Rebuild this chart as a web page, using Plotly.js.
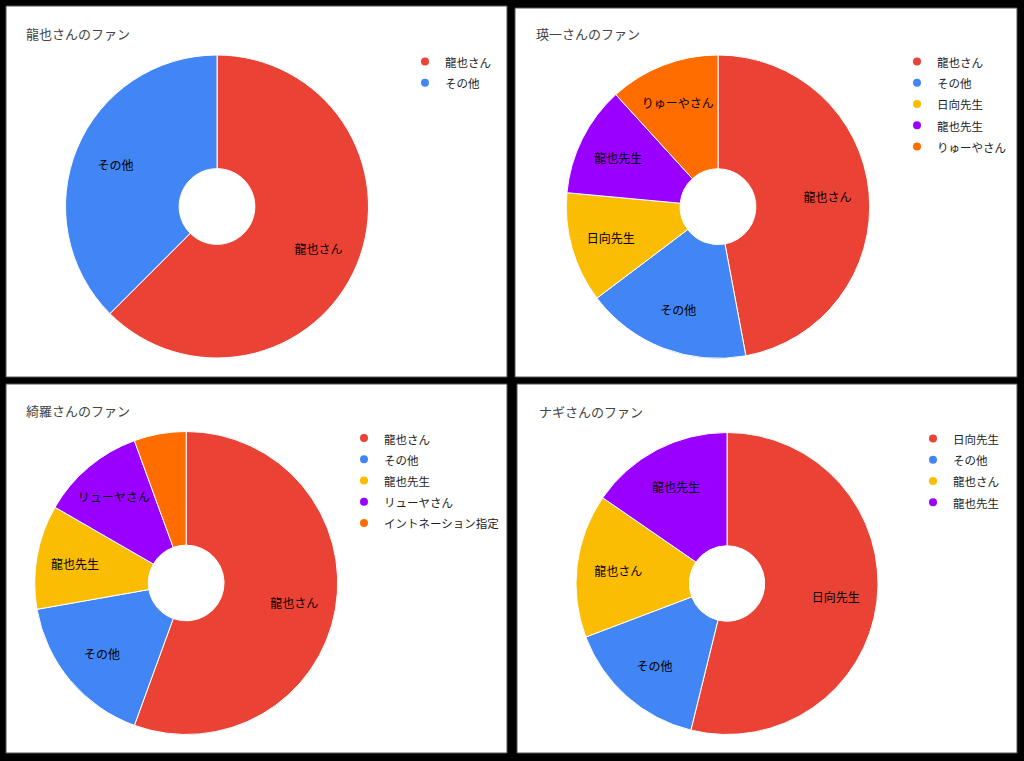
<!DOCTYPE html>
<html><head><meta charset="utf-8">
<script src="https://cdn.plot.ly/plotly-3.0.1.min.js"></script>
<style>html,body{margin:0;padding:0;background:#000;}#chart{width:1024px;height:761px;}</style>
</head><body><div id="chart"></div>
<script>
// ---- data ----
const ryuyaTitle = '龍也さんのファン';
const ryuyaLabels = ['龍也さん', 'その他'];
const ryuyaValues = [5, 3];

const eiichiTitle = '瑛一さんのファン';
const eiichiLabels = ['龍也さん', 'その他', '日向先生', '龍也先生', 'りゅーやさん'];
const eiichiValues = [8, 3, 2, 2, 2];

const kiraTitle = '綺羅さんのファン';
const kiraLabels = ['龍也さん', 'その他', '龍也先生', 'リューヤさん', 'イントネーション指定'];
const kiraValues = [10, 3, 2, 2, 1];

const nagiTitle = 'ナギさんのファン';
const nagiLabels = ['日向先生', 'その他', '龍也さん', '龍也先生'];
const nagiValues = [7, 2, 2, 2];

// ---- style ----
const sliceColors = ['#ea4335', '#4285f4', '#fbbc04', '#9900ff', '#ff6d01'];
const W = 1024, H = 761;
const FONT = '"Noto Sans CJK JP", "Noto Sans", sans-serif';

const panels = [
  {title: ryuyaTitle, labels: ryuyaLabels, values: ryuyaValues,
   box: [6, 507, 6, 377], center: [217, 206.5], r: 151.5, titlePos: [24, 33.5], legendPos: [405, 46]},
  {title: eiichiTitle, labels: eiichiLabels, values: eiichiValues,
   box: [515, 1017, 8, 377], center: [718, 206.7], r: 151.7, titlePos: [534, 33.5], legendPos: [897, 46]},
  {title: kiraTitle, labels: kiraLabels, values: kiraValues,
   box: [6, 507, 384, 753], center: [186.2, 583], r: 151.5, titlePos: [24, 410.5], legendPos: [344, 422.5]},
  {title: nagiTitle, labels: nagiLabels, values: nagiValues,
   box: [517, 1017, 384, 753], center: [727, 583.5], r: 151, titlePos: [537, 411], legendPos: [913, 423]}
];

const traces = [];
const labelTraces = [];
const shapes = [];
const annotations = [];
const layout = {
  width: W, height: H,
  margin: {l: 0, r: 0, t: 0, b: 0},
  paper_bgcolor: '#000000',
  plot_bgcolor: 'rgba(0,0,0,0)',
  xaxis: {visible: false, fixedrange: true},
  yaxis: {visible: false, fixedrange: true},
  hovermode: false,
  font: {family: FONT}
};

panels.forEach((p, k) => {
  const legendId = k === 0 ? 'legend' : 'legend' + (k + 1);
  const total = p.values.reduce((a, b) => a + b, 0);
  const [cx, cy] = p.center;
  const domain = {x: [(cx - p.r) / W, (cx + p.r) / W], y: [1 - (cy + p.r) / H, 1 - (cy - p.r) / H]};
  // visible donut
  traces.push({
    type: 'pie',
    labels: p.labels,
    values: p.values,
    sort: false,
    direction: 'clockwise',
    hole: 0.25,
    domain: domain,
    marker: {colors: sliceColors.slice(0, p.labels.length), line: {color: '#ffffff', width: 1}},
    textinfo: 'none',
    showlegend: false,
    hoverinfo: 'skip'
  });
  // transparent twin that carries the slice labels at Google-like radius
  labelTraces.push({
    type: 'pie',
    labels: p.labels,
    values: p.values,
    sort: false,
    direction: 'clockwise',
    hole: 0.45,
    domain: domain,
    marker: {colors: p.labels.map(() => 'rgba(0,0,0,0)'), line: {width: 0}},
    textposition: 'inside',
    insidetextorientation: 'horizontal',
    texttemplate: p.values.map(v => (v / total < 0.08 ? '' : '%{label}')),
    insidetextfont: {family: FONT, size: 12, color: '#000000'},
    showlegend: false,
    hoverinfo: 'skip'
  });
  p.labels.forEach((lab, i) => {
    traces.push({
      type: 'scatter', x: [null], y: [null], mode: 'markers',
      marker: {color: sliceColors[i], size: 8},
      name: '<span style="font-size:11.5px">' + lab + '</span>',
      legend: legendId, showlegend: true, hoverinfo: 'skip'
    });
  });
  layout[legendId] = {
    x: p.legendPos[0] / W, y: 1 - p.legendPos[1] / H,
    xanchor: 'left', yanchor: 'top',
    bgcolor: 'rgba(0,0,0,0)', borderwidth: 0,
    font: {family: FONT, size: 14, color: '#222222'},
    itemwidth: 30, traceorder: 'normal', itemclick: false, itemdoubleclick: false
  };
  const [x0, x1, y0, y1] = p.box;
  shapes.push({
    type: 'rect', xref: 'paper', yref: 'paper', layer: 'below',
    x0: x0 / W, x1: x1 / W, y0: 1 - y1 / H, y1: 1 - y0 / H,
    fillcolor: '#ffffff', line: {color: '#555555', width: 1}
  });
  annotations.push({
    xref: 'paper', yref: 'paper',
    x: p.titlePos[0] / W, y: 1 - p.titlePos[1] / H,
    xanchor: 'left', yanchor: 'middle', showarrow: false,
    text: p.title,
    font: {family: FONT, size: 13, color: '#444444'}
  });
});

layout.shapes = shapes;
layout.annotations = annotations;

Plotly.newPlot('chart', traces.concat(labelTraces), layout, {displayModeBar: false, staticPlot: true});
</script>
</body></html>
